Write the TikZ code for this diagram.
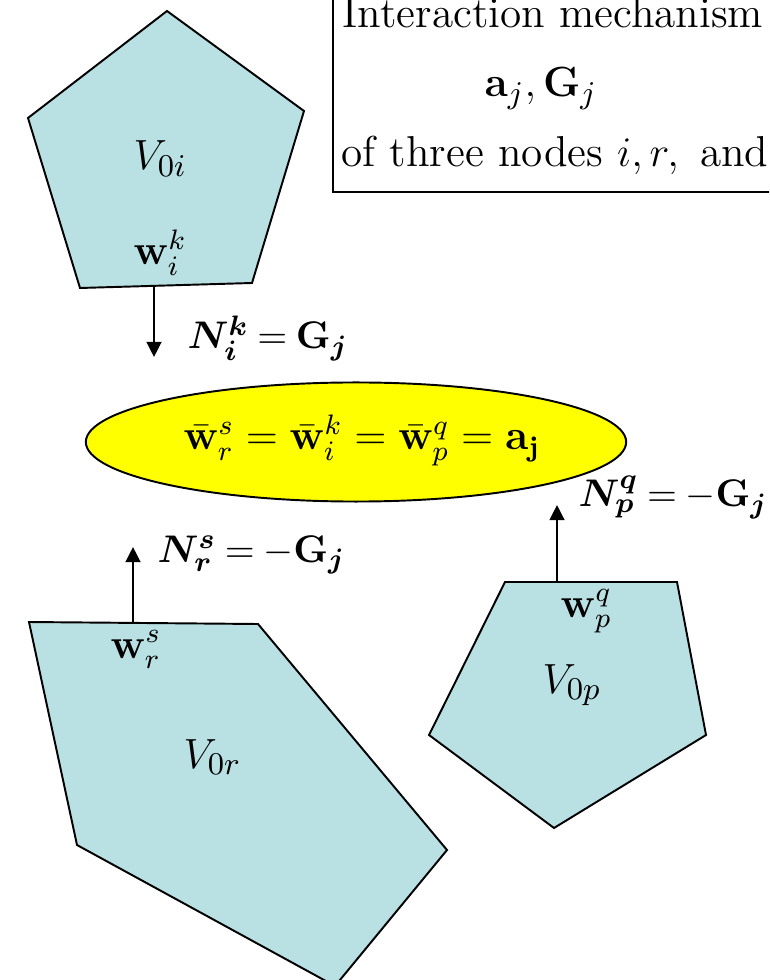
\documentclass[tikz,border=0pt]{standalone}
\usepackage{amsmath,bm}
\usetikzlibrary{arrows.meta,shapes.geometric}
\definecolor{cellfill}{RGB}{185,224,227}
\definecolor{poolfill}{RGB}{255,255,0}
\newcommand{\tighteq}{\mathrel{\mkern-1mu=\mkern-1mu}}
\begin{document}
\begin{tikzpicture}[x=0.01cm,y=-0.01cm,
  poly/.style={draw=black,line width=0.55pt,fill=cellfill,line join=miter},
  force/.style={-{Triangle[length=4.3pt,width=4.2pt]},line width=0.65pt},
  txt/.style={inner sep=0pt,anchor=base west,font=\fontsize{12}{14}\selectfont},
  boxtxt/.style={inner sep=0pt,anchor=base west,font=\fontsize{12.3}{14}\selectfont},
  lbl/.style={inner sep=0pt,anchor=base west,font=\fontsize{11}{13}\selectfont},
  vlbl/.style={inner sep=0pt,anchor=base west,font=\fontsize{12.5}{14}\selectfont}]
\useasboundingbox (0,0) rectangle (769,980);
\begin{scope}
\clip (0,0) rectangle (769,980);
% info box
\node[draw,line width=0.55pt,anchor=north west,minimum width=4.8cm,minimum height=2.11cm,inner sep=0pt] (box) at (332,-20) {};
\node[boxtxt] (t1) at (342,28) {Interaction mechanism};
\node[boxtxt] (t2) at (484,97) {$\mathbf{a}_j,\mathbf{G}_j$};
\node[boxtxt] (t3) at (341,167) {of three nodes $i,r,$\, and};
% cells
\draw[poly] (167,11) -- (304,111) -- (252,283) -- (80,288) -- (28,118) -- cycle;
\draw[poly] (505,582) -- (677,582) -- (706,735) -- (554,828) -- (429,735) -- cycle;
\draw[poly] (29,622) -- (258,624) -- (447,850) -- (335,986) -- (77,845) -- cycle;
\node[vlbl] (vi) at (133,170) {$V_{0i}$};
\node[vlbl] (vp) at (542,693) {$V_{0p}$};
\node[vlbl] (vr) at (183,768) {$V_{0r}$};
\node[txt] (wi) at (133,265) {$\mathbf{w}_i^k$};
\node[txt] (wp) at (560,617) {$\mathbf{w}_p^q$};
\node[txt] (wr) at (110,658) {$\mathbf{w}_r^s$};
% pool
\node[ellipse,draw=black,line width=0.55pt,fill=poolfill,minimum width=5.4cm,minimum height=1.19cm,inner sep=0pt] (pool) at (356,442) {};
\node[txt,anchor=base] (pooltxt) at (362,450) {$\bar{\mathbf{w}}_r^s=\bar{\mathbf{w}}_i^k=\bar{\mathbf{w}}_p^q=\mathbf{a}_{\mathbf{j}}$};
% forces
\coordinate (ib) at (154,287);
\coordinate (it) at (154,357);
\coordinate (pb) at (557,582);
\coordinate (pt) at (557,505);
\coordinate (rb) at (133,623);
\coordinate (rt) at (133,547);
\draw[force] (ib) -- (it);
\draw[force] (pb) -- (pt);
\draw[force] (rb) -- (rt);
\node[lbl] (ni) at (187,349) {$\bm{N}_{\bm{i}}^{\bm{k}}\tighteq\mathbf{G}_{\bm{j}}$};
\node[lbl] (np) at (578,507) {$\bm{N}_{\bm{p}}^{\bm{q}}\tighteq-\mathbf{G}_{\bm{j}}$};
\node[lbl] (nr) at (157,562) {$\bm{N}_{\bm{r}}^{\bm{s}}\tighteq-\mathbf{G}_{\bm{j}}$};
\end{scope}
\end{tikzpicture}
\end{document}
